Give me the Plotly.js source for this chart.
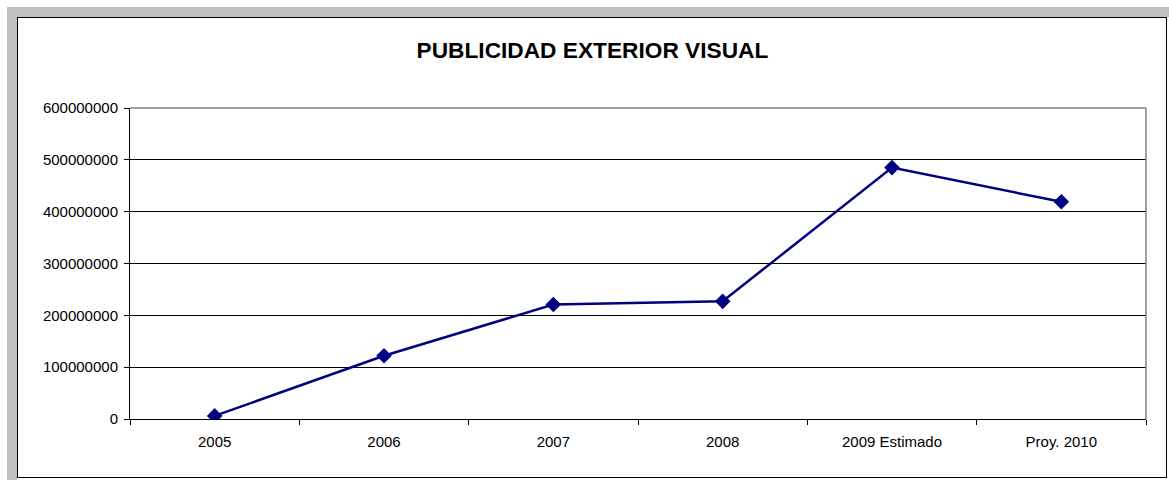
<!DOCTYPE html>
<html>
<head>
<meta charset="utf-8">
<script src="https://cdn.plot.ly/plotly-3.0.1.min.js"></script>
<style>
  html, body { margin: 0; padding: 0; background: #ffffff; width: 1169px; height: 480px; overflow: hidden; }
  #bandTop { position: absolute; left: 7px; top: 7px; width: 1162px; height: 10px; background: #c0c0c0; }
  #bandLeft { position: absolute; left: 7px; top: 7px; width: 10px; height: 473px; background: #c0c0c0; }
  #frame { position: absolute; left: 17px; top: 17px; width: 1150px; height: 461px; box-sizing: border-box; border: 1.5px solid #000; background: #fff; }
  #chart { position: absolute; left: 0; top: 0; width: 1169px; height: 480px; }
</style>
</head>
<body>
<div id="bandTop"></div>
<div id="bandLeft"></div>
<div id="frame"></div>
<div id="chart"></div>
<script>
const categories = ["2005", "2006", "2007", "2008", "2009 Estimado", "Proy. 2010"];
const values = [6000000, 122000000, 221000000, 227000000, 485000000, 419000000];
const yTickValues = [0, 100000000, 200000000, 300000000, 400000000, 500000000, 600000000];
const yTickLabels = ["0", "100000000", "200000000", "300000000", "400000000", "500000000", "600000000"];
const chartTitle = "PUBLICIDAD EXTERIOR VISUAL";

const fontFamily = "Liberation Sans, Arial, Helvetica, sans-serif";

const trace = {
  x: categories,
  y: values,
  type: "scatter",
  mode: "lines+markers",
  line: { color: "#000080", width: 2.5 },
  marker: { symbol: "diamond", size: 12, color: "#000080" },
  hoverinfo: "skip"
};

const layout = {
  width: 1169,
  height: 480,
  paper_bgcolor: "rgba(0,0,0,0)",
  plot_bgcolor: "#ffffff",
  showlegend: false,
  margin: { l: 130, r: 23, t: 108, b: 61, pad: 0 },
  font: { family: fontFamily, color: "#000000", size: 15 },
  title: {
    text: "<b>" + chartTitle + "</b>",
    font: { family: fontFamily, size: 22.7, color: "#000000" },
    x: 0.5068, xref: "container", xanchor: "center",
    y: 0.8958, yref: "container", yanchor: "middle"
  },
  xaxis: {
    type: "category",
    range: [-0.5, categories.length - 0.5],
    showgrid: false,
    zeroline: false,
    showline: true,
    linecolor: "#000000",
    linewidth: 1,
    ticks: "outside",
    tickson: "boundaries",
    ticklen: 5,
    tickcolor: "#000000",
    tickwidth: 1,
    ticklabelstandoff: 9,
    tickfont: { family: fontFamily, size: 15, color: "#000000" },
    fixedrange: true
  },
  yaxis: {
    range: [0, 600000000],
    tickmode: "array",
    tickvals: yTickValues,
    ticktext: yTickLabels,
    showgrid: true,
    gridcolor: "#000000",
    gridwidth: 1,
    zeroline: false,
    showline: true,
    linecolor: "#000000",
    linewidth: 1,
    ticks: "outside",
    ticklen: 5,
    tickcolor: "#000000",
    tickwidth: 1,
    ticklabelstandoff: 3,
    tickfont: { family: fontFamily, size: 15, color: "#000000" },
    fixedrange: true
  },
  shapes: [
    { type: "line", xref: "paper", yref: "paper", x0: 0, x1: 1, y0: 1, y1: 1, line: { color: "#808080", width: 1.5 }, layer: "above" },
    { type: "line", xref: "paper", yref: "paper", x0: 1, x1: 1, y0: 0, y1: 1, line: { color: "#808080", width: 1.5 }, layer: "above" }
  ]
};

Plotly.newPlot("chart", [trace], layout, { displayModeBar: false, staticPlot: true });
</script>
</body>
</html>
